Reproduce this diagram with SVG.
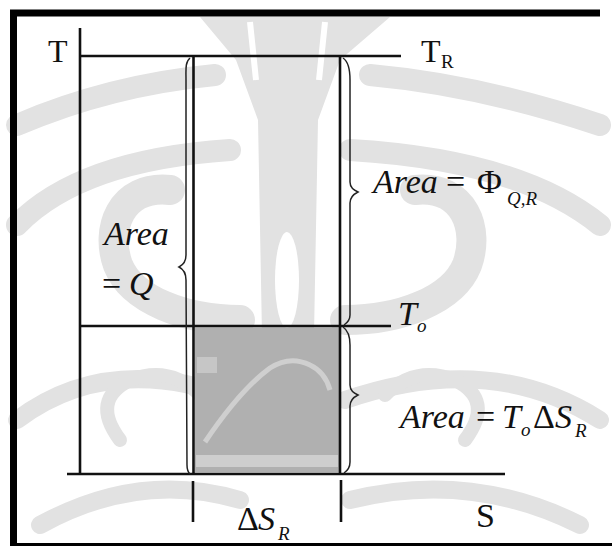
<svg xmlns="http://www.w3.org/2000/svg" width="612" height="546" viewBox="0 0 612 546">
<defs>
<style>
.ln{stroke:#111;stroke-width:2.6;fill:none;stroke-linecap:butt}
.br{stroke:#222;stroke-width:1.5;fill:none}
.wm{fill:none;stroke:#e2e2e2;stroke-linecap:round}
.wf{fill:#e2e2e2}
.t{font-family:"Liberation Serif",serif;fill:#111}
.it{font-style:italic}
.big{font-size:32px}
.mid{font-size:34px}
.sub{font-size:19px}
</style>
</defs>
<rect width="612" height="546" fill="#fff"/>
<g id="watermark">
<path class="wf" d="M200,17 L390,17 L340,60 L318,120 L314,335 L262,335 L258,120 L236,60 Z"/>
<ellipse cx="287" cy="280" rx="12" ry="48" fill="#fff"/>
<path d="M250,22 L256,80 M325,22 L319,80" stroke="#fff" stroke-width="6"/>
<path class="wm" stroke-width="22" d="M17,125 Q110,85 215,75"/>
<path class="wm" stroke-width="22" d="M600,125 Q480,85 370,75"/>
<path class="wm" stroke-width="22" d="M17,225 Q80,160 230,150"/>
<path class="wm" stroke-width="22" d="M600,225 Q520,160 350,150"/>
<path class="wm" stroke-width="30" d="M170,190 C120,185 105,230 118,265 C132,300 185,320 240,320"/>
<path class="wm" stroke-width="30" d="M415,190 C465,185 480,230 467,265 C453,300 400,320 345,320"/>
<path class="wm" stroke-width="18" d="M17,420 Q110,350 240,400"/>
<path class="wm" stroke-width="18" d="M600,420 Q490,350 345,400"/>
<path class="wm" stroke-width="14" d="M120,440 Q90,400 130,380 Q170,365 200,395"/>
<path class="wm" stroke-width="14" d="M465,440 Q495,400 455,380 Q415,365 385,395"/>
<path class="wm" stroke-width="18" d="M40,525 Q140,470 240,500"/>
<path class="wm" stroke-width="18" d="M580,525 Q470,470 350,500"/>
</g>
<g id="frame">
<path d="M13.5,546 V13 H600" fill="none" stroke="#000" stroke-width="7"/>
<line x1="10" y1="544.5" x2="612" y2="544.5" stroke="#000" stroke-width="3"/>
</g>
<g id="shaded-area">
<rect x="195" y="327.5" width="144" height="145" fill="#b0b0b0"/>
<path d="M205,442 Q240,390 270,368 Q290,355 310,365 Q325,372 330,390" fill="none" stroke="#cfcfcf" stroke-width="5"/>
<rect x="196" y="455" width="142" height="12" fill="#d6d6d6" opacity="0.8"/>
<rect x="197" y="357" width="20" height="16" fill="#c6c6c6"/>
</g>
<g id="connectors">
<line class="ln" x1="80" y1="28" x2="80" y2="474"/>
<line class="ln" x1="80" y1="56" x2="401" y2="56"/>
<line class="ln" x1="193.5" y1="56" x2="193.5" y2="474"/>
<line class="ln" x1="340" y1="56" x2="340" y2="474"/>
<line class="ln" x1="80" y1="326" x2="391" y2="326"/>
<line class="ln" x1="67" y1="474" x2="505" y2="474"/>
<line class="ln" x1="193" y1="481" x2="193" y2="522"/>
<line class="ln" x1="341" y1="480" x2="341" y2="522"/>
</g>
<g id="braces">
<path class="br" d="M190,58 C185,62 186,70 186,80 L186,255 C186,262 183,265 179,267 C183,269 186,272 186,280 L187,465 C187,470 188,472 190,474"/>
<path class="br" d="M343,58 C349,62 350,70 350,80 V182 C350,188 354,190 358,192 C354,194 350,197 350,203 V315 C350,320 347,323 344,325"/>
<path class="br" d="M343,327 C349,331 350,338 350,345 V385 C350,391 354,393 358,395 C354,397 350,400 350,406 V462 C350,468 347,471 344,473"/>
</g>
<g id="label-T"><text class="t big" x="48" y="62">T</text></g>
<g id="label-TR"><text class="t big" x="421" y="62">T</text><text class="t sub" x="441" y="68">R</text></g>
<g id="label-To"><text class="t mid it" x="398" y="325">T</text><text class="t sub it" x="417" y="332">o</text></g>
<g id="label-S"><text class="t mid" x="476" y="527">S</text></g>
<g id="label-dSR"><text class="t mid" x="237" y="530">Δ</text><text class="t mid it" x="258" y="530">S</text><text class="t sub it" x="278" y="540">R</text></g>
<g id="label-Q"><text class="t mid it" x="104" y="245">Area</text><text class="t mid" x="102" y="295">=</text><text class="t mid it" x="129" y="295">Q</text></g>
<g id="label-Phi"><text class="t mid it" x="373" y="193">Area</text><text class="t mid" x="446" y="193">=</text><text class="t mid" x="477" y="193">Φ</text><text class="t sub it" x="507" y="205">Q,R</text></g>
<g id="label-ToDS"><text class="t mid it" x="400" y="428">Area</text><text class="t mid" x="476" y="428">=</text><text class="t mid it" x="502" y="428">T</text><text class="t sub it" x="521" y="436">o</text><text class="t mid" x="533" y="428">Δ</text><text class="t mid it" x="555" y="428">S</text><text class="t sub it" x="575" y="437">R</text></g>
</svg>
